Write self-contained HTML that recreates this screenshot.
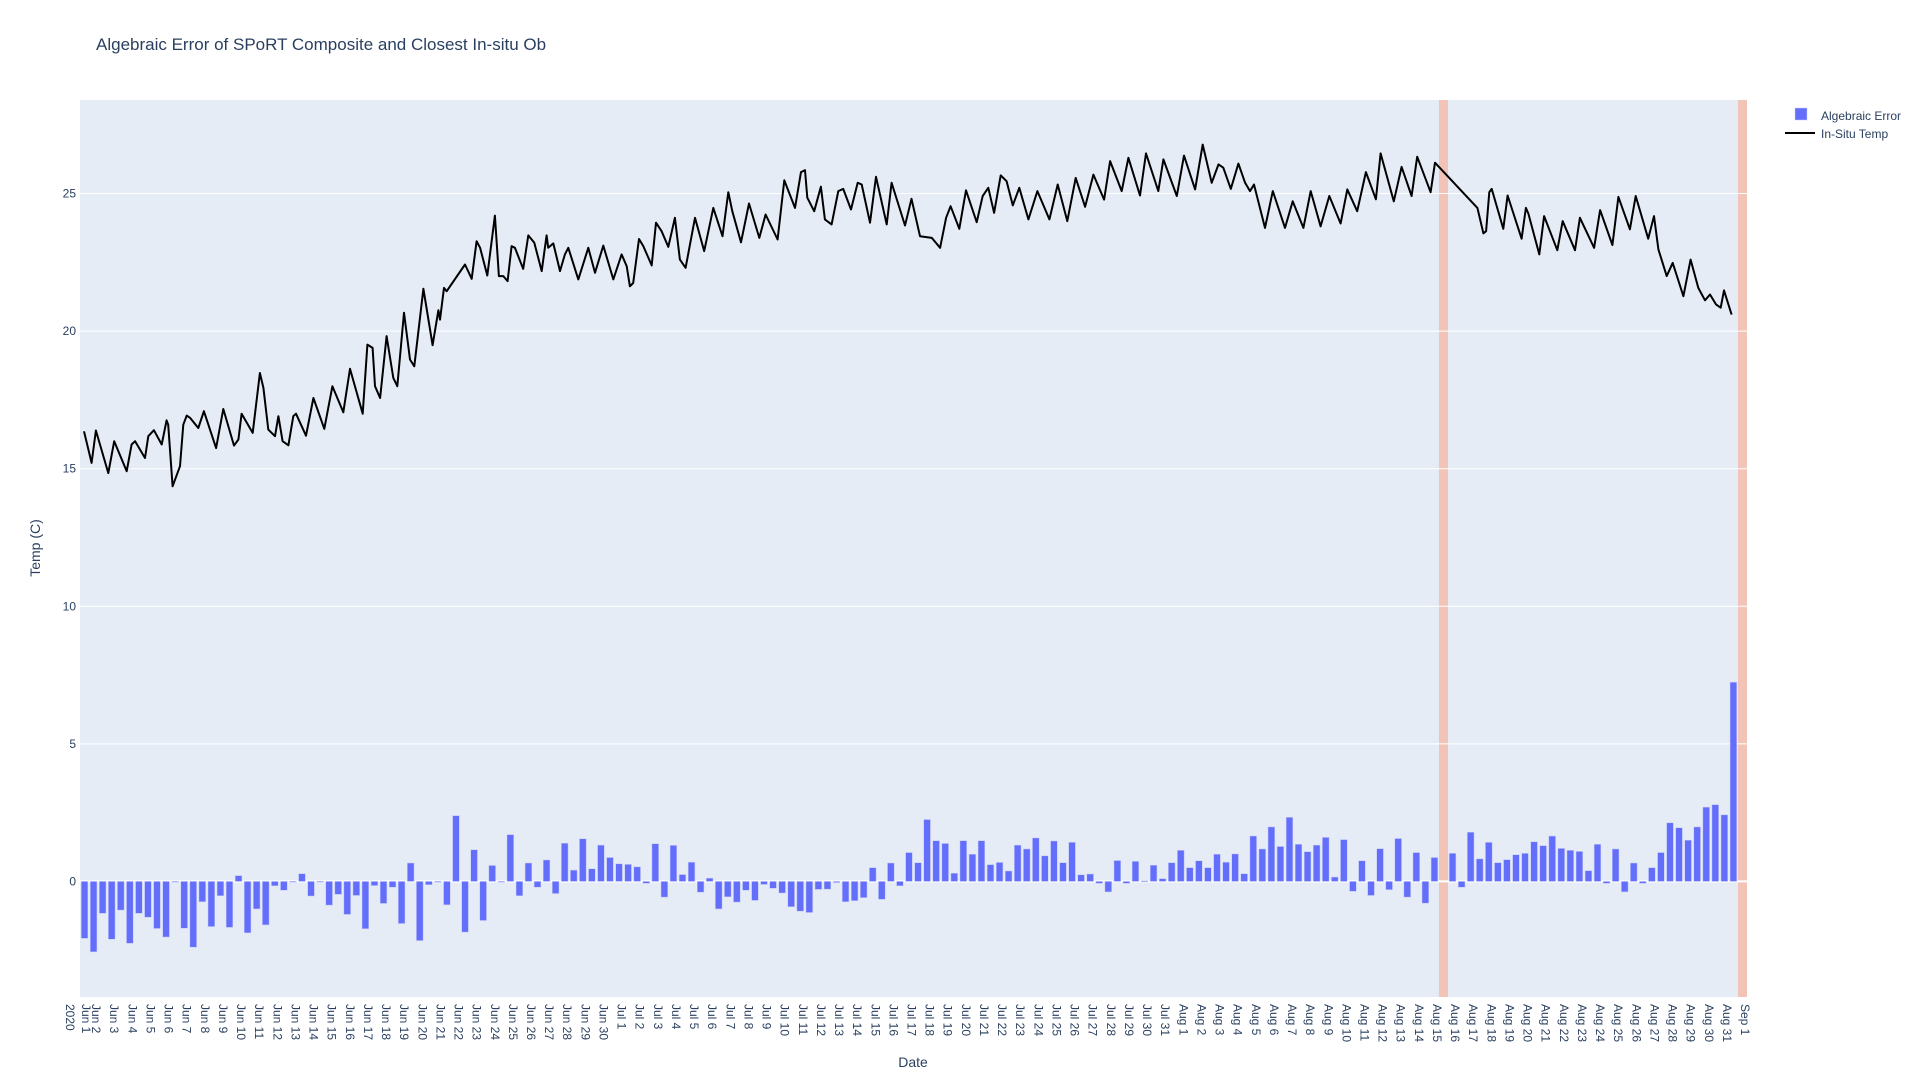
<!DOCTYPE html>
<html><head><meta charset="utf-8"><style>
body{margin:0;background:#fff;font-family:"Liberation Sans",Arial,sans-serif;}
svg text{font-family:"Liberation Sans",Arial,sans-serif;fill:#2a3f5f;}
</style></head><body>
<svg id="chart" width="1920" height="1080" xmlns="http://www.w3.org/2000/svg">
<rect x="0" y="0" width="1920" height="1080" fill="#fff"/>
<text x="96" y="50" font-size="17">Algebraic Error of SPoRT Composite and Closest In-situ Ob</text>
<rect x="80" y="100" width="1667" height="897" fill="#E5ECF6"/>
<g id="shapes"></g><g id="grid"></g><g id="bars"></g><g id="line"></g><g id="yticks"></g><g id="xticks"></g>
<text transform="translate(40,548) rotate(-90)" text-anchor="middle" font-size="14">Temp (C)</text>
<text x="913" y="1067" text-anchor="middle" font-size="14">Date</text>
<g>
<g><rect x="1795" y="108" width="12" height="12" fill="#636efa" stroke="#c5c9fb" stroke-width="0.5"/><text x="1821" y="120" font-size="12">Algebraic Error</text></g>
<g><line x1="1785" y1="133" x2="1815" y2="133" stroke="#000" stroke-width="2"/><text x="1821" y="138" font-size="12">In-Situ Temp</text></g>
</g>
</svg>
<script>
// Bar data: one value every 12 hours starting Jun 1 (null = missing)
const errorValues=[-2.07,-2.56,-1.16,-2.10,-1.04,-2.25,-1.16,-1.30,-1.71,-2.02,0,-1.70,-2.39,-0.74,-1.64,-0.52,-1.67,0.21,-1.87,-1.0,-1.58,-0.16,-0.32,0,0.28,-0.53,0,-0.86,-0.47,-1.2,-0.51,-1.72,-0.15,-0.8,-0.21,-1.53,0.67,-2.15,-0.12,0,-0.85,2.39,-1.84,1.15,-1.42,0.58,0,1.70,
-0.52,0.67,-0.21,0.78,-0.44,1.39,0.41,1.55,0.46,1.32,0.87,0.64,0.62,0.53,-0.07,1.37,-0.57,1.31,0.25,0.70,-0.39,0.12,-1.0,-0.56,-0.75,-0.32,-0.69,-0.11,-0.25,-0.42,-0.92,-1.08,-1.13,-0.29,-0.28,-0.04,-0.74,-0.70,-0.59,0.50,-0.65,0.67,-0.16,1.05,0.68,2.25,
1.48,1.38,0.30,1.48,0.99,1.48,0.61,0.69,0.38,1.32,1.18,1.58,0.93,1.47,0.68,1.42,0.24,0.27,-0.07,-0.38,0.76,-0.07,0.73,0.02,0.59,0.10,0.68,1.13,0.50,0.75,0.50,0.99,0.70,1.0,0.28,1.65,1.18,1.98,1.27,2.33,1.35,1.08,1.32,1.60,0.16,1.52,
-0.36,0.75,-0.51,1.19,-0.30,1.56,-0.57,1.05,-0.79,0.87,null,1.02,-0.21,1.79,0.82,1.42,0.68,0.79,0.97,1.02,1.44,1.30,1.65,1.20,1.13,1.09,0.39,1.35,-0.07,1.18,-0.38,0.67,-0.07,0.50,1.05,2.13,1.95,1.50,1.98,2.70,2.79,2.42,7.24];
// Line data: time in days since Jun 1, temperature (C)
const tempDays=[0.22,0.64,0.88,1.56,1.89,2.58,2.85,3.04,3.59,3.77,4.08,4.51,4.78,4.87,5.11,5.52,5.70,5.89,6.07,6.53,6.84,7.51,7.91,8.50,8.74,8.92,9.53,9.93,10.12,10.39,10.76,10.95,11.18,11.50,11.77,11.92,12.47,12.88,13.48,13.93,14.53,14.90,15.60,15.86,16.15,16.28,16.56,16.92,17.29,17.51,17.88,18.21,18.45,18.95,19.46,19.78,19.87,20.09,20.24,21.25,21.62,21.89,22.08,22.48,22.90,23.12,23.36,23.60,23.82,24.0,24.46,24.74,25.07,25.48,25.75,25.84,26.12,26.49,26.76,26.95,27.50,28.05,28.42,28.88,29.43,29.89,30.17,30.35,30.53,30.85,31.09,31.55,31.79,32.10,32.47,32.83,33.11,33.42,33.94,34.45,34.95,35.46,35.78,36.0,36.48,36.92,37.49,37.84,38.50,38.87,39.46,39.79,40.01,40.14,40.52,40.89,41.11,41.48,41.85,42.12,42.55,42.92,43.14,43.60,43.93,44.52,44.79,45.53,45.89,46.36,47.01,47.47,47.80,48.05,48.53,48.90,49.49,49.82,50.13,50.45,50.81,51.14,51.48,51.84,52.34,52.84,53.50,53.96,54.49,54.95,55.47,55.93,56.52,56.85,57.49,57.86,58.50,58.83,59.51,59.79,60.53,60.93,61.54,61.96,62.46,62.83,63.10,63.51,63.93,64.30,64.57,64.79,65.40,65.83,66.50,66.93,67.52,67.92,68.47,68.95,69.57,69.94,70.49,70.97,71.52,71.78,72.51,72.94,73.49,73.80,74.54,74.78,77.12,77.45,77.60,77.78,77.91,78.55,78.79,79.56,79.80,79.93,80.54,80.80,81.53,81.83,82.51,82.78,83.56,83.89,84.57,84.90,85.54,85.86,86.55,86.87,87.11,87.57,87.90,88.49,88.89,89.31,89.68,89.96,90.29,90.55,90.73,91.15];
const tempValues=[16.36,15.21,16.39,14.84,16.0,14.91,15.88,16.0,15.39,16.18,16.40,15.88,16.76,16.60,14.36,15.09,16.60,16.93,16.85,16.48,17.09,15.75,17.17,15.84,16.06,17.0,16.30,18.48,17.94,16.42,16.18,16.91,16.0,15.85,16.91,17.0,16.20,17.57,16.45,18.0,17.05,18.63,17.0,19.51,19.39,18.0,17.57,19.82,18.30,18.0,20.67,18.97,18.72,21.54,19.49,20.76,20.42,21.57,21.45,22.42,21.9,23.27,23.03,22.02,24.20,22.0,22.0,21.82,23.09,23.03,22.26,23.48,23.21,22.18,23.48,23.03,23.19,22.18,22.79,23.03,21.88,23.03,22.12,23.11,21.88,22.79,22.36,21.63,21.75,23.35,23.09,22.39,23.94,23.63,23.06,24.12,22.60,22.30,24.12,22.91,24.48,23.45,25.05,24.36,23.23,24.64,23.39,24.24,23.33,25.48,24.48,25.78,25.85,24.85,24.36,25.25,24.06,23.88,25.09,25.17,24.42,25.39,25.33,23.94,25.61,23.88,25.39,23.84,24.81,23.45,23.39,23.03,24.12,24.54,23.72,25.12,23.96,24.91,25.21,24.30,25.66,25.45,24.57,25.21,24.06,25.09,24.06,25.33,24.0,25.57,24.52,25.69,24.78,26.18,25.09,26.30,24.93,26.46,25.09,26.24,24.91,26.38,25.15,26.78,25.39,26.06,25.94,25.17,26.09,25.39,25.09,25.33,23.75,25.09,23.75,24.72,23.75,25.09,23.81,24.91,23.91,25.15,24.36,25.78,24.79,26.46,24.72,25.97,24.91,26.34,25.05,26.12,24.48,23.55,23.63,25.05,25.17,23.72,24.93,23.36,24.48,24.28,22.79,24.18,22.94,24.0,22.94,24.12,23.03,24.40,23.13,24.88,23.70,24.91,23.36,24.18,22.97,22.0,22.48,21.27,22.60,21.57,21.12,21.33,20.97,20.85,21.48,20.60];
const yTicks=[0,5,10,15,20,25];
const shadedRanges=[[75.0,75.5],[91.5,92.0]];
const monthNames=["Jun","Jul","Aug","Sep"];
const monthLengths=[30,31,31,1];

const NS="http://www.w3.org/2000/svg";
const X0=80,X1=1747,Y0=997,Y1=100,DMAX=92,VMIN=-4.2,VMAX=28.4;
function xs(d){return X0+(d/DMAX)*(X1-X0);}
function ys(v){return Y0-(v-VMIN)/(VMAX-VMIN)*(Y0-Y1);}
function mk(tag,attrs,parent){const e=document.createElementNS(NS,tag);for(const k in attrs)e.setAttribute(k,attrs[k]);parent.appendChild(e);return e;}

const gS=document.getElementById('shapes');
shadedRanges.forEach(r=>{
 const e=mk('rect',{x:xs(r[0]),y:Y1,width:xs(r[1])-xs(r[0]),height:Y0-Y1,fill:'#f2c4b8'},gS);
 
 
});
const gG=document.getElementById('grid'),gY=document.getElementById('yticks');
yTicks.forEach(v=>{
 const l=mk('line',{x1:X0,x2:X1,y1:ys(v),y2:ys(v),stroke:'#fff','stroke-width':v===0?2:1},gG);
 
 
 const t=mk('text',{x:X0-4,y:ys(v)+4,'text-anchor':'end','font-size':12},gY);
 t.textContent=v;
 
 
});
const gB=document.getElementById('bars');
const bw=(xs(0.5)-xs(0))*0.74;
errorValues.forEach((v,i)=>{
 if(v===null)return;
 const cx=xs(i*0.5+0.25);
 const y=Math.min(ys(v),ys(0)),h=Math.max(Math.abs(ys(v)-ys(0)),0.8);
 const b=mk('rect',{x:cx-bw/2,y:y,width:bw,height:h,fill:'#636efa',stroke:'#c5c9fb','stroke-width':0.5},gB);
 
 
});
const gL=document.getElementById('line');
const pts=tempDays.map((d,i)=>xs(d).toFixed(1)+','+ys(tempValues[i]).toFixed(1)).join(' ');
const pl=mk('polyline',{points:pts,fill:'none',stroke:'#000','stroke-width':2,'stroke-linejoin':'round'},gL);


const gX=document.getElementById('xticks');
let day=0;
monthNames.forEach((m,mi)=>{
 for(let k=1;k<=monthLengths[mi];k++){
  const x=xs(day);
  const off=day===0?2:-6;
  const t=mk('text',{transform:'translate('+(x+off)+','+(Y0+7)+') rotate(90)','font-size':12},gX);
  t.textContent=m+' '+k;
  
  
  if(day===0){
   const t2=mk('text',{transform:'translate('+(x-14)+','+(Y0+7)+') rotate(90)','font-size':12},gX);
   t2.textContent='2020';
   
   
  }
  day++;
 }
});
</script>
</body></html>
